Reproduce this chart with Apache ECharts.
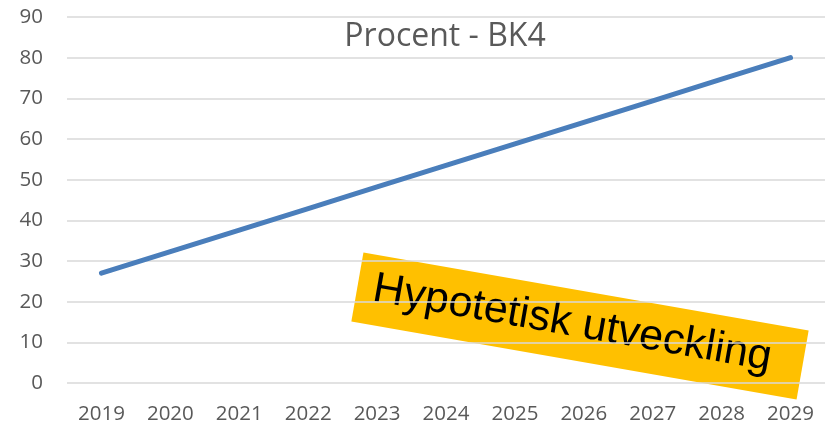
<!DOCTYPE html>
<html>
<head>
<meta charset="utf-8">
<script src="https://cdn.jsdelivr.net/npm/echarts@6/dist/echarts.min.js"></script>
<style>html,body{margin:0;padding:0;background:#fff}#c{width:830px;height:425px}</style>
</head>
<body>
<div id="c"></div>
<script>
const years = ['2019','2020','2021','2022','2023','2024','2025','2026','2027','2028','2029'];
const procent = [27, 32.3, 37.6, 42.9, 48.2, 53.5, 58.8, 64.1, 69.4, 74.7, 80];
const titleText = 'Procent - BK4';
const noteText = 'Hypotetisk utveckling';

const chart = echarts.init(document.getElementById('c'), null, {renderer:'canvas'});
const font = '"Open Sans", "Noto Sans", sans-serif';
chart.setOption({
  animation: false,
  backgroundColor: '#ffffff',
  title: {
    text: titleText,
    left: 440, top: 16, textAlign: 'center',
    textStyle: {fontFamily: font, fontSize: 32, fontWeight: 'normal', color: '#595959'}
  },
  grid: {left: 67, right: 5, top: 17, bottom: 42, containLabel: false},
  xAxis: {
    type: 'category', data: years, boundaryGap: true,
    axisLine: {show: false}, axisTick: {show: false},
    axisLabel: {fontFamily: font, fontSize: 20.5, color: '#595959', margin: 21}
  },
  yAxis: {
    type: 'value', min: 0, max: 90, interval: 10,
    axisLine: {show: false}, axisTick: {show: false},
    axisLabel: {fontFamily: font, fontSize: 20.5, color: '#595959', margin: 24},
    splitLine: {lineStyle: {color: '#d9d9d9', width: 1.5}}
  },
  series: [{
    type: 'line', data: procent, symbol: 'none',
    lineStyle: {color: '#4A7EBB', width: 5, cap: 'round'}
  }],
  graphic: [{
    type: 'group',
    x: 580, y: 326,
    rotation: -9.94 * Math.PI / 180,
    children: [{
      type: 'rect',
      shape: {x: -226, y: -35, width: 452, height: 70},
      style: {fill: '#FFC000'}
    }, {
      type: 'text',
      x: -8, y: -1,
      style: {
        text: noteText, fill: '#000000',
        font: '43px "Liberation Sans", Arial, sans-serif',
        textAlign: 'center', textVerticalAlign: 'middle'
      }
    }]
  }]
});
</script>
</body>
</html>
